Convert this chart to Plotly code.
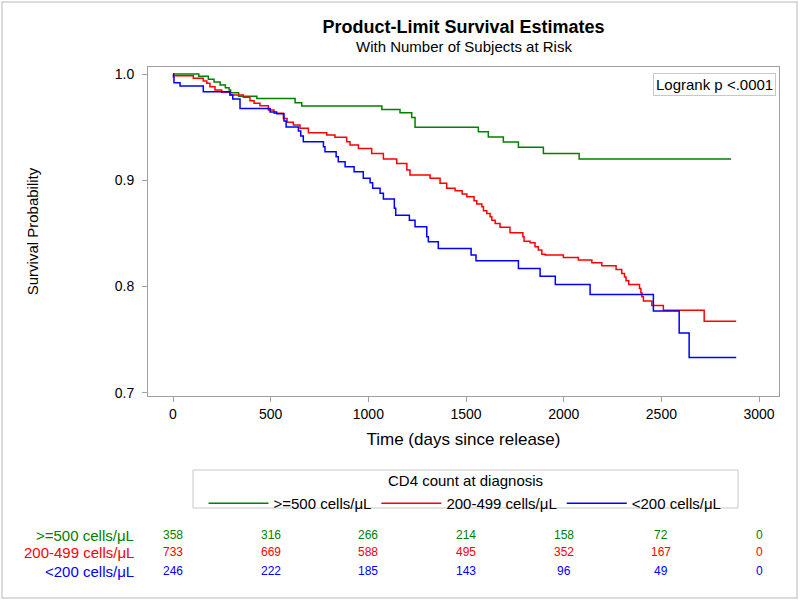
import plotly.graph_objects as go

# ---- data ----
green_t = [0, 132, 181, 210, 241, 268, 287, 295, 336, 429, 625, 659, 1069, 1162, 1222, 1239,
           1563, 1614, 1691, 1768, 1896, 2079, 2857]
green_s = [1.0, .9978, .9950, .9925, .9896, .9870, .9850, .9824, .9790, .9770, .9730, .9700,
           .9667, .9636, .9590, .9500, .9457, .9407, .9360, .9310, .9253, .9200, .9200]

red_t = [0, 5, 104, 155, 173, 189, 215, 249, 292, 360, 394, 415, 445, 488, 517, 565, 584, 616,
         650, 693, 787, 829, 889, 906, 949, 1017, 1077, 1145, 1197, 1213, 1316, 1367, 1401,
         1444, 1480, 1504, 1541, 1555, 1581, 1589, 1606, 1623, 1632, 1649, 1674, 1725, 1791,
         1797, 1828, 1853, 1870, 1888, 1905, 1998, 2075, 2144, 2195, 2268, 2297, 2311, 2319,
         2333, 2388, 2395, 2400, 2408, 2451, 2510, 2719, 2883]
red_s = [1.0, .9984, .9960, .9934, .9912, .9880, .9849, .9828, .9802, .9781, .9749, .9724,
         .9702, .9661, .9630, .9581, .9545, .9520, .9489, .9447, .9426, .9404, .9363, .9331,
         .9300, .9253, .9200, .9159, .9096, .9049, .9018, .8971, .8924, .8901, .8870, .8845,
         .8807, .8776, .8750, .8713, .8688, .8656, .8625, .8594, .8557, .8506, .8468, .8427,
         .8411, .8374, .8343, .8305, .8296, .8274, .8249, .8223, .8195, .8161, .8123, .8091,
         .8054, .8020, .7982, .7941, .7903, .7865, .7822, .7778, .7674, .7674]

blue_t = [0, 2, 5, 36, 155, 292, 306, 343, 497, 531, 568, 579, 642, 654, 667, 770, 778, 835,
          846, 881, 927, 974, 1009, 1022, 1060, 1077, 1133, 1140, 1210, 1239, 1299, 1307, 1358,
          1526, 1551, 1768, 1879, 1957, 2135, 2459, 2591, 2642, 2883]
blue_s = [1.0, .9975, .9918, .9887, .9833, .9802, .9765, .9676, .9642, .9626, .9557, .9501,
          .9463, .9416, .9363, .9315, .9268, .9221, .9174, .9127, .9080, .9018, .8976, .8924,
          .8877, .8823, .8736, .8672, .8625, .8562, .8468, .8421, .8358, .8296, .8242, .8170,
          .8098, .8020, .7926, .7771, .7564, .7332, .7332]

group_names = [">=500 cells/\u03bcL", "200-499 cells/\u03bcL", "<200 cells/\u03bcL"]
group_colors = ["#008000", "#ff0000", "#0000ff"]

risk_times = [0, 500, 1000, 1500, 2000, 2500, 3000]
risk_green = [358, 316, 266, 214, 158, 72, 0]
risk_red = [733, 669, 588, 495, 352, 167, 0]
risk_blue = [246, 222, 185, 143, 96, 49, 0]

x_ticks = [0, 500, 1000, 1500, 2000, 2500, 3000]
y_ticks = [0.7, 0.8, 0.9, 1.0]

FONT = "Liberation Sans, Arial, sans-serif"
AXIS_COL = "#a0a0a0"
BOX_COL = "#c8c8c8"

# plot area in pixels: left 148, right 779, top 67, bottom 396
PW, PH = 631, 329


def px_x(px):
    return (px - 148) / PW


def px_y(py):
    return (396 - py) / PH


fig = go.Figure()
for t, s, name, col in zip([green_t, red_t, blue_t], [green_s, red_s, blue_s], group_names, group_colors):
    fig.add_trace(go.Scatter(x=t, y=s, mode="lines", line=dict(color=col, width=1.5, shape="hv"),
                             name=name))

# number at risk rows
row_py = [535, 552, 571]
for vals, name, col, py in zip([risk_green, risk_red, risk_blue], group_names, group_colors, row_py):
    yy = px_y(py)
    fig.add_annotation(x=px_x(136), y=yy, xref="paper", yref="paper", text=name,
                       showarrow=False, xanchor="right", yanchor="middle",
                       font=dict(family=FONT, size=15, color=col))
    for tt, v in zip(risk_times, vals):
        fig.add_annotation(x=tt, y=yy, xref="x", yref="paper", text=str(v), showarrow=False,
                           xanchor="center", yanchor="middle",
                           font=dict(family=FONT, size=12, color=col))

# logrank box
fig.add_annotation(x=1, y=1, xref="paper", yref="paper", xshift=-3, yshift=-6,
                   text="Logrank p <.0001", showarrow=False, xanchor="right", yanchor="top",
                   font=dict(family=FONT, size=15, color="#000"), bordercolor=BOX_COL,
                   borderwidth=1, borderpad=2, bgcolor="white")

# subtitle
fig.add_annotation(x=0.5, y=px_y(46), xref="paper", yref="paper",
                   text="With Number of Subjects at Risk", showarrow=False, xanchor="center",
                   yanchor="middle", font=dict(family=FONT, size=15, color="#000"))

# legend frame and title
fig.add_shape(type="rect", xref="paper", yref="paper", x0=px_x(193), x1=px_x(738),
              y0=px_y(508), y1=px_y(470), line=dict(color=BOX_COL, width=1))
fig.add_annotation(x=px_x(465), y=px_y(480), xref="paper", yref="paper",
                   text="CD4 count at diagnosis", showarrow=False, xanchor="center",
                   yanchor="middle", font=dict(family=FONT, size=15, color="#000"))

# outer border
fig.add_shape(type="rect", xref="paper", yref="paper", x0=px_x(2), x1=px_x(797),
              y0=px_y(598), y1=px_y(2), line=dict(color="#d0d0d0", width=1.5))

fig.update_layout(
    width=800, height=601,
    margin=dict(l=148, r=21, t=67, b=205, autoexpand=False),
    paper_bgcolor="white", plot_bgcolor="white",
    title=dict(text="<b>Product-Limit Survival Estimates</b>", x=0.5, xref="paper",
               y=1 - 27 / 601, yref="container", xanchor="center", yanchor="middle",
               font=dict(family=FONT, size=18, color="#000")),
    font=dict(family=FONT, size=14, color="#000"),
    showlegend=True,
    legend=dict(orientation="h", x=px_x(465), y=px_y(487), xanchor="center",
                yanchor="top", xref="paper", yref="paper",
                borderwidth=0, itemwidth=60, bgcolor="rgba(0,0,0,0)",
                font=dict(family=FONT, size=15, color="#000"), tracegroupgap=0,
                itemclick=False),
    xaxis=dict(range=[-128, 3102], tickvals=x_ticks, ticks="outside", ticklen=5,
               tickcolor=AXIS_COL, showline=True, linecolor=AXIS_COL, linewidth=1, mirror=True,
               showgrid=False, zeroline=False, automargin=False,
               tickfont=dict(family=FONT, size=14, color="#000"),
               title=dict(text="Time (days since release)", standoff=12,
                          font=dict(family=FONT, size=17, color="#000"))),
    yaxis=dict(range=[0.697, 1.0066], tickvals=y_ticks, tickformat=".1f", ticks="outside",
               ticklen=5, tickcolor=AXIS_COL, showline=True, linecolor=AXIS_COL, linewidth=1,
               mirror=True, showgrid=False, zeroline=False, automargin=False,
               ticklabelstandoff=5,
               tickfont=dict(family=FONT, size=14, color="#000"),
               title=dict(text="Survival Probability", standoff=72,
                          font=dict(family=FONT, size=15, color="#000"))),
)

fig.write_html("out.html", config={"displayModeBar": False},
               post_script="document.body.style.margin='0';document.body.style.overflow='hidden';")
